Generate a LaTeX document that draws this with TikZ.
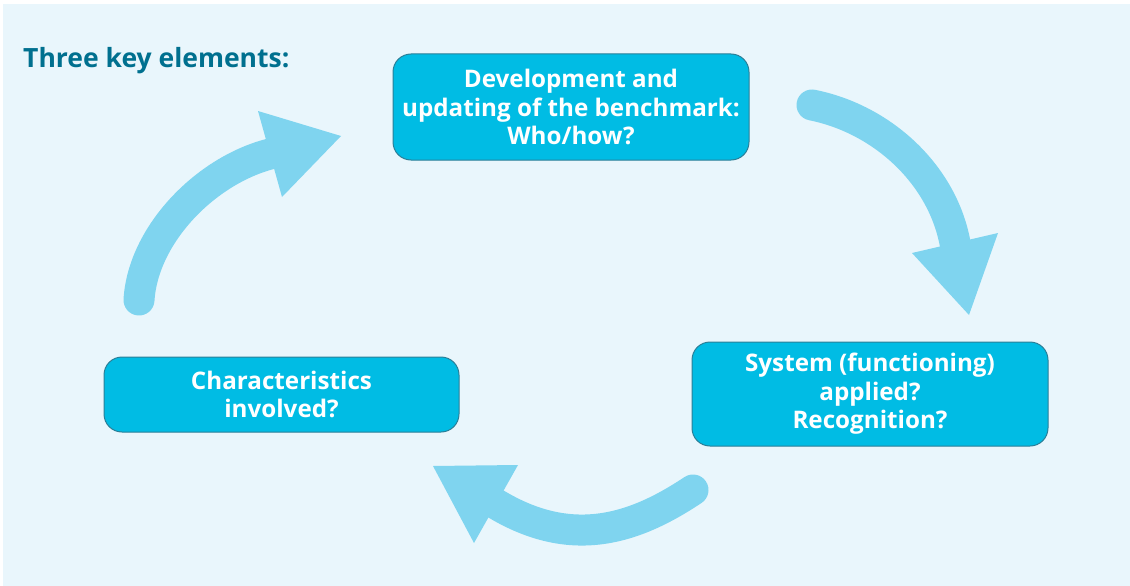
\documentclass[tikz,border=0pt]{standalone}
\usepackage{fontspec}
\setmainfont{Open Sans}
\usetikzlibrary{positioning}
\definecolor{bgc}{HTML}{E9F6FC}
\definecolor{boxc}{HTML}{00BCE4}
\definecolor{boxb}{HTML}{2A7F98}
\definecolor{titc}{HTML}{00708F}
\definecolor{arrc}{HTML}{7FD4EF}
\tikzset{
  keybox/.style={draw=boxb, line width=1pt, fill=boxc, rounded corners=18pt,
    text=white, font=\fontsize{24.2}{28.5}\selectfont\bfseries, align=center, inner sep=0pt},
  shaft/.style={draw=arrc, line width=31pt, line cap=round},
  tiphead/.style={fill=arrc}
}
\begin{document}
\begin{tikzpicture}[x=1pt,y=-1pt]
\useasboundingbox (0,0) rectangle (1130,586);
\fill[bgc] (3,4) rectangle (1130,586);
\node[anchor=base west, text=titc, font=\fontsize{26.5}{30}\selectfont\bfseries, inner sep=0pt] (title) at (23,67) {Three key elements:};
\node[keybox, minimum width=356pt, minimum height=106pt] (dev) at (571,107) {Development and\\updating of the benchmark:\\Who/how?};
\node[keybox, minimum width=356pt, minimum height=104pt] (sys) at (870,394) {System (functioning)\\applied?\\Recognition?};
\node[keybox, minimum width=355pt, minimum height=75pt] (char) at (281.5,394.5) {Characteristics\\involved?};
% arrow 1: characteristics -> development
\coordinate (a1s) at (139,300);
\coordinate (a1e) at (270,154);
\draw[shaft] (a1s) .. controls (143,235) and (205,171) .. (a1e);
\fill[tiphead] (258,111) -- (341,136) -- (282,197) -- cycle;
% arrow 2: development -> system
\coordinate (a2s) at (812,105);
\coordinate (a2e) at (955,243);
\draw[shaft] (a2s) .. controls (882,119) and (942,174) .. (a2e);
\fill[tiphead] (912,253) -- (998,233) -- (969,315) -- cycle;
% arrow 3: system -> characteristics
\coordinate (a3s) at (693,490);
\coordinate (a3e) at (496,504);
\draw[shaft] (a3s) .. controls (633,530) and (571,549) .. (a3e);
\fill[tiphead] (433,466) -- (518,465) -- (474,543) -- cycle;
\end{tikzpicture}
\end{document}
